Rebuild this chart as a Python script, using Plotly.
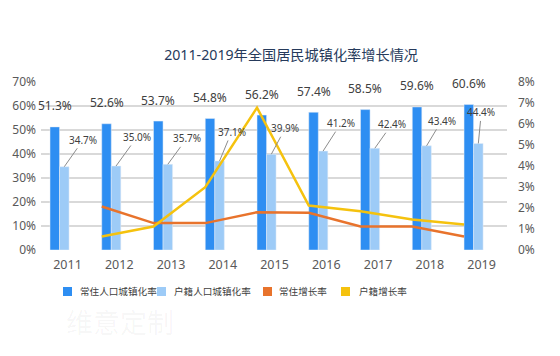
import plotly.graph_objects as go

# ---- data ----
years = ["2011", "2012", "2013", "2014", "2015", "2016", "2017", "2018", "2019"]
resident_rate = [51.3, 52.6, 53.7, 54.8, 56.2, 57.4, 58.5, 59.6, 60.6]      # 常住人口城镇化率 (%)
household_rate = [34.7, 35.0, 35.7, 37.1, 39.9, 41.2, 42.4, 43.4, 44.4]     # 户籍人口城镇化率 (%)
resident_growth = [None, 2.07, 1.28, 1.28, 1.80, 1.77, 1.12, 1.12, 0.64]    # 常住增长率 (%)
household_growth = [None, 0.64, 1.12, 2.99, 6.78, 2.12, 1.85, 1.45, 1.21]   # 户籍增长率 (%)

series_names = ["常住人口城镇化率", "户籍人口城镇化率", "常住增长率", "户籍增长率"]
title_text = "2011-2019年全国居民城镇化率增长情况"

# ---- style ----
C_DARK = "#2E8EF2"
C_LIGHT = "#9DCBF7"
C_ORANGE = "#E8732C"
C_YELLOW = "#F5C20E"
FONT = "Noto Sans, Noto Sans CJK SC, sans-serif"
OFF = 8  # default page body margin
W, H = 560 - OFF, 356 - OFF
ML, MR, MT, MB = 41 - OFF, 53, 82 - OFF, 106
PW, PH = W - ML - MR, H - MT - MB

def px(xp):  # screen pixel -> paper
    return (xp - OFF - ML) / PW

def py(yp):
    return (H - MB - (yp - OFF)) / PH

idx = list(range(len(years)))
BW = 0.184  # bar width in category units

fig = go.Figure()
fig.add_trace(go.Bar(x=idx, y=resident_rate, width=BW, offset=0, marker_color=C_DARK,
                     name=series_names[0], showlegend=False))
fig.add_trace(go.Bar(x=idx, y=household_rate, width=BW, offset=BW, marker_color=C_LIGHT,
                     name=series_names[1], showlegend=False))
fig.add_trace(go.Scatter(x=idx, y=resident_growth, yaxis="y2", mode="lines",
                         line=dict(color=C_ORANGE, width=2.5), name=series_names[2],
                         showlegend=False, connectgaps=False))
fig.add_trace(go.Scatter(x=idx, y=household_growth, yaxis="y2", mode="lines",
                         line=dict(color=C_YELLOW, width=2.5), name=series_names[3],
                         showlegend=False, connectgaps=False))

annotations = []
# dark bar labels
for i, v in enumerate(resident_rate):
    annotations.append(dict(x=i + BW / 2, y=v, xref="x", yref="y", text=f"{v:.1f}%",
                            showarrow=False, yshift=21, font=dict(size=12, color="#404040")))
# light bar labels with leader lines
offs = [(19, -27), (21, -29), (19, -26), (12, -29), (14, -26), (18, -28), (17, -24), (15, -25), (3, -31)]
for i, v in enumerate(household_rate):
    ax, ay = offs[i]
    annotations.append(dict(x=i + 1.5 * BW, y=v, xref="x", yref="y", text=f"{v:.1f}%",
                            showarrow=True, arrowhead=0, arrowwidth=1, arrowcolor="#8C8C8C",
                            ax=ax, ay=ay, standoff=0, startstandoff=0,
                            font=dict(size=10, color="#404040")))

# manual legend (square swatches like the original)
leg_sq = [63, 157, 263, 341]
leg_tx = [78, 172, 277, 357]
leg_col = [C_DARK, C_LIGHT, C_ORANGE, C_YELLOW]
shapes = []
for sx, tx, col, name in zip(leg_sq, leg_tx, leg_col, series_names):
    shapes.append(dict(type="rect", xref="paper", yref="paper",
                       x0=px(sx), x1=px(sx + 9), y0=py(296), y1=py(287),
                       fillcolor=col, line=dict(width=0)))
    annotations.append(dict(x=px(tx), y=py(291.5), xref="paper", yref="paper", text=name,
                            showarrow=False, xanchor="left", yanchor="middle",
                            font=dict(size=9.6, color="#404040")))

# faint watermark
annotations.append(dict(x=px(120), y=py(322), xref="paper", yref="paper", text="维意定制",
                        showarrow=False, xanchor="center", yanchor="middle",
                        font=dict(size=27, color="rgba(0,0,0,0.04)")))

fig.update_layout(
    width=W, height=H,
    margin=dict(l=ML, r=MR, t=MT, b=MB, pad=0, autoexpand=False),
    paper_bgcolor="white", plot_bgcolor="white",
    font=dict(family=FONT, color="#595959"),
    title=dict(text=title_text, x=px(280), xanchor="center", y=1 - (55 - OFF) / H, yanchor="middle",
               font=dict(size=14.2, color="#263A5B")),
    barmode="overlay",
    showlegend=False,
    xaxis=dict(range=[-0.174, 8.83], tickmode="array", tickvals=[i + 0.338 for i in idx],
               ticktext=years, showgrid=False, zeroline=False, showline=False, ticks="",
               automargin=False,
               ticklabelstandoff=5, tickfont=dict(size=12.5, color="#595959")),
    yaxis=dict(range=[0, 70], dtick=10, ticksuffix="%", showgrid=True, gridcolor="#D9D9D9",
               gridwidth=1.5, zeroline=False, showline=False, ticks="", automargin=False,
               ticklabelstandoff=4, tickfont=dict(size=12, color="#595959")),
    yaxis2=dict(range=[0, 8], dtick=1, ticksuffix="%", overlaying="y", side="right",
                showgrid=False, zeroline=False, showline=False, ticks="", automargin=False,
                ticklabelstandoff=10, tickfont=dict(size=12, color="#595959")),
    annotations=annotations,
    shapes=shapes,
)

fig.write_html("out.html")
